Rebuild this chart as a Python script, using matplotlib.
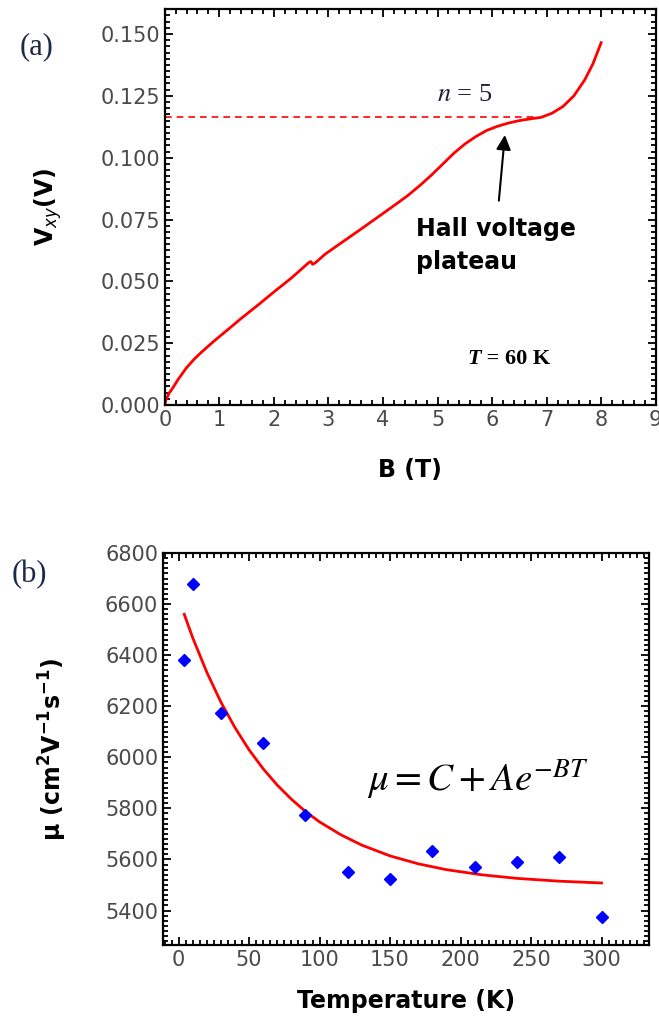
import matplotlib
matplotlib.use("Agg")
import matplotlib.pyplot as plt
from matplotlib.ticker import MultipleLocator, FormatStrFormatter

# panel (a): Hall voltage vs field, T = 60 K
field_T = [0.0, 0.02, 0.08, 0.15, 0.25, 0.4, 0.55, 0.7, 0.9, 1.13, 1.4, 1.73, 2.0,
           2.33, 2.64, 2.68, 2.71, 2.76, 2.94, 3.25, 3.55, 3.85, 4.15, 4.45, 4.7,
           4.9, 5.1, 5.3, 5.5, 5.7, 5.9, 6.1, 6.3, 6.5, 6.7, 6.9, 7.1, 7.3, 7.5,
           7.7, 7.85, 8.0]
hall_V = [0.0, 0.002, 0.0048, 0.007, 0.0105, 0.0151, 0.0188, 0.0219, 0.0258,
          0.030, 0.0350, 0.0408, 0.0457, 0.0515, 0.0576, 0.0580, 0.0569, 0.0575,
          0.0610, 0.0658, 0.0704, 0.0751, 0.0798, 0.0846, 0.0892, 0.0932, 0.0975,
          0.1018, 0.1055, 0.1085, 0.1110, 0.1127, 0.1140, 0.1150, 0.1157, 0.1163,
          0.1180, 0.1207, 0.1250, 0.1315, 0.1380, 0.1465]
plateau_V = 0.1164
plateau_end_B = 6.82

# panel (b): mobility vs temperature
temp_K = [4, 10, 30, 60, 90, 120, 150, 180, 210, 240, 270, 300]
mobility = [6380, 6680, 6175, 6055, 5775, 5550, 5525, 5635, 5570, 5590, 5610, 5375]
fit_T = [4, 10, 20, 30, 40, 50, 60, 70, 80, 90, 100, 115, 130, 150, 170, 190, 215,
         240, 270, 300]
fit_mu = [6560, 6468, 6333, 6216, 6116, 6029, 5955, 5891, 5836, 5788, 5747, 5697,
          5656, 5614, 5583, 5560, 5540, 5526, 5515, 5508]

tick_gray = "#4a4a4a"
label_blue = "#1c2a4a"


def style_axes(ax):
    for s in ax.spines.values():
        s.set_linewidth(1.6)
    ax.tick_params(which="both", direction="in", top=True, right=True,
                   width=1.3, colors="black", labelcolor=tick_gray, labelsize=15)
    ax.tick_params(which="major", length=6)
    ax.tick_params(which="minor", length=3.5)


fig = plt.figure(figsize=(6.59, 10.21), dpi=100)

ax1 = fig.add_axes([0.250, 0.6033, 0.745, 0.3876])
ax1.plot(field_T, hall_V, color="#ff0000", lw=2)
ax1.plot([0, plateau_end_B], [plateau_V, plateau_V], color="#ff0000", lw=1.2,
         ls=(0, (4, 3)))
ax1.set_xlim(0, 9)
ax1.set_ylim(0, 0.16)
ax1.xaxis.set_major_locator(MultipleLocator(1))
ax1.xaxis.set_minor_locator(MultipleLocator(0.2))
ax1.yaxis.set_major_locator(MultipleLocator(0.025))
ax1.yaxis.set_minor_locator(MultipleLocator(0.0025))
ax1.yaxis.set_major_formatter(FormatStrFormatter("%.3f"))
style_axes(ax1)
ax1.set_xlabel("B (T)", fontsize=17, fontweight="bold", labelpad=20)
ax1.set_ylabel(r"V$_{xy}$(V)", fontsize=17, fontweight="bold", labelpad=26)
ax1.text(5.5, 0.1255, r"$n$ = 5", fontsize=19, color="#202030",
         ha="center", va="center", math_fontfamily="stix",
         family="Liberation Serif")
ax1.annotate("", xy=(6.24, 0.1103), xytext=(6.12, 0.0815),
             arrowprops=dict(arrowstyle="-|>", color="black", lw=1.5,
                             mutation_scale=22))
ax1.text(4.6, 0.0646, "Hall voltage\nplateau", fontsize=17, fontweight="bold",
         ha="left", va="center", linespacing=1.5)
t_lbl = ax1.text(5.55, 0.0186, "T", fontsize=16, family="Liberation Serif",
                 fontweight="bold", fontstyle="italic", ha="left", va="center")
ax1.annotate(" = 60 K", xy=(1, 0.5), xycoords=t_lbl, fontsize=16,
             family="Liberation Serif", fontweight="bold", ha="left", va="center")
fig.text(37 / 659, 1 - 47 / 1021, "(a)", fontsize=22, family="Liberation Serif",
         color=label_blue, ha="center", va="center")

ax2 = fig.add_axes([0.2475, 0.0744, 0.738, 0.3840])
ax2.plot(fit_T, fit_mu, color="#ff0000", lw=2)
ax2.plot(temp_K, mobility, "D", color="#0000ff", markersize=6.5, ls="none")
ax2.set_xlim(-11, 334)
ax2.set_ylim(5265, 6800)
ax2.xaxis.set_major_locator(MultipleLocator(50))
ax2.xaxis.set_minor_locator(MultipleLocator(5))
ax2.yaxis.set_major_locator(MultipleLocator(200))
ax2.yaxis.set_minor_locator(MultipleLocator(20))
style_axes(ax2)
ax2.set_xlabel("Temperature (K)", fontsize=17, fontweight="bold", labelpad=14)
ax2.set_ylabel(r"μ (cm$^\mathbf{2}$V$^\mathbf{-1}$s$^\mathbf{-1}$)", fontsize=17,
               fontweight="bold", labelpad=26)
ax2.text(212, 5910, r"$\mu = C + Ae^{-BT}$", fontsize=28, ha="center", va="center",
         math_fontfamily="stix")
fig.text(29 / 659, 1 - 575 / 1021, "(b)", fontsize=22, family="Liberation Serif",
         color=label_blue, ha="center", va="center")

fig.savefig("out.png", dpi=100)
